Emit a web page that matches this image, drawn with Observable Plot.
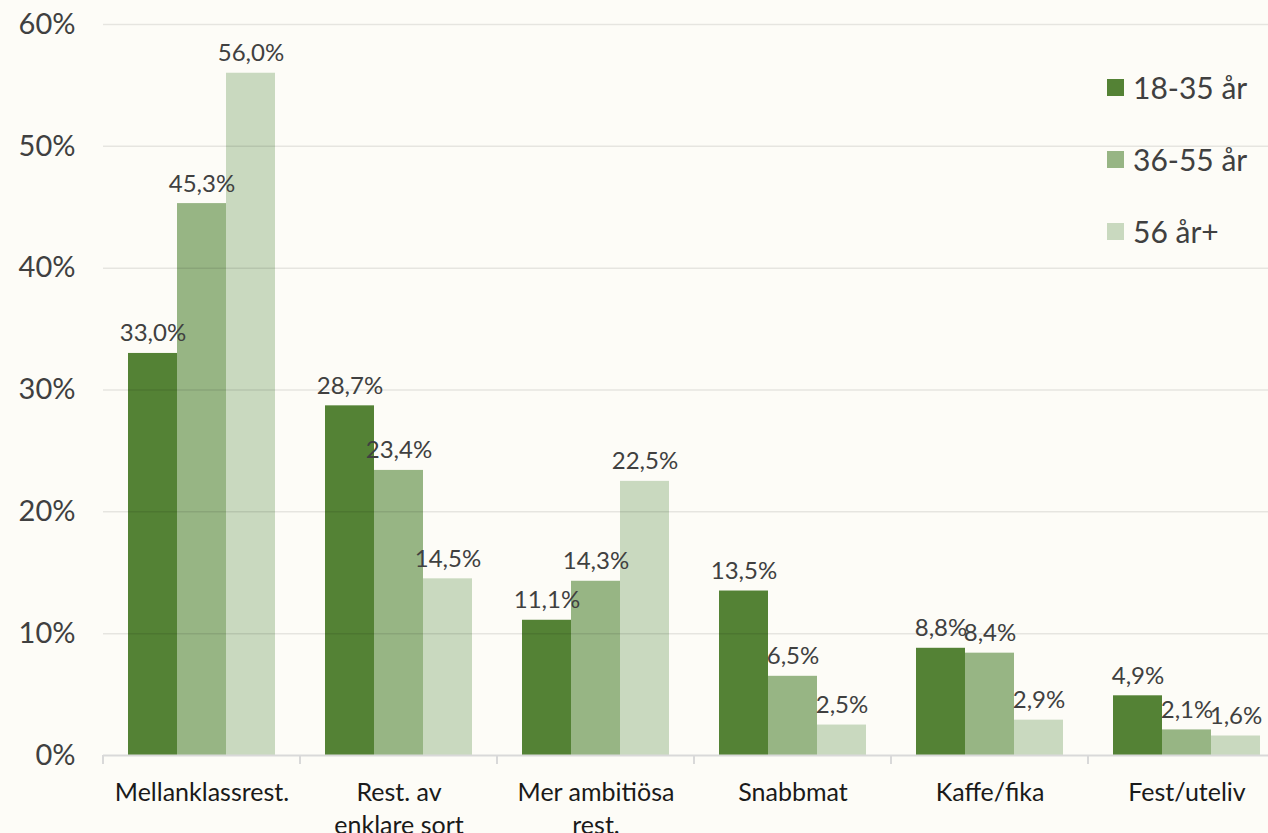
<!DOCTYPE html>
<html>
<head>
<meta charset="utf-8">
<script src="https://cdn.jsdelivr.net/npm/d3@7"></script>
<script src="https://cdn.jsdelivr.net/npm/@observablehq/plot@0.6"></script>
<style>
  html, body { margin: 0; padding: 0; background: #FDFCF7; }
  #wrap { position: relative; width: 1268px; height: 833px; overflow: hidden; font-family: Lato, "Open Sans", sans-serif; }
  #chart { position: absolute; left: 0; top: 0; }
  #legend { position: absolute; left: 1107px; top: 51px; }
  .row { display: flex; align-items: center; height: 72px; font-size: 30px; color: #404040; }
  .sw { width: 17px; height: 17px; margin-right: 9px; }
</style>
</head>
<body>
<div id="wrap"><div id="chart"></div><div id="legend"></div></div>
<script>
const categories = ["Mellanklassrest.", "Rest. av\nenklare sort", "Mer ambitiösa\nrest.", "Snabbmat", "Kaffe/fika", "Fest/uteliv"];
const groups = ["18-35 år", "36-55 år", "56 år+"];
const v18_35 = [33.0, 28.7, 11.1, 13.5, 8.8, 4.9];
const v36_55 = [45.3, 23.4, 14.3, 6.5, 8.4, 2.1];
const v56plus = [56.0, 14.5, 22.5, 2.5, 2.9, 1.6];
const colors = ["#548235", "#97B584", "#C9D9BF"];
const yTicks = [0, 10, 20, 30, 40, 50, 60];

const series = [v18_35, v36_55, v56plus];
const data = categories.flatMap((c, i) => groups.map((g, j) => ({category: c, group: g, value: series[j][i]})));

const font = "Lato, 'Open Sans', sans-serif";
const plot = Plot.plot({
  width: 1268,
  height: 833,
  marginLeft: 103,
  marginRight: -17,
  marginTop: 24,
  marginBottom: 78,
  style: {background: "transparent", fontFamily: font, overflow: "visible"},
  fx: {domain: categories, padding: 0, label: null, axis: null},
  x: {domain: groups, paddingInner: 0, paddingOuter: 0.51, axis: null},
  y: {domain: [0, 60], axis: null},
  color: {domain: groups, range: colors},
  marks: [
    Plot.barY(data, {fx: "category", x: "group", y: "value", fill: "group"}),
    Plot.gridY(yTicks.filter(d => d > 0), {stroke: "#000", strokeOpacity: 0.09, strokeWidth: 1.5}),
    Plot.ruleY([0], {stroke: "#D9D9D9", strokeWidth: 2}),
    Plot.axisY(yTicks, {tickSize: 0, tickPadding: 28, fontSize: 29, fill: "#404040", tickFormat: d => d + "%", label: null}),
    Plot.axisFx({anchor: "bottom", tickSize: 0, tickPadding: 22, fontSize: 25, lineHeight: 1.32, fill: "#1a1a1a", label: null}),
    Plot.text(data, {fx: "category", x: "group", y: "value", text: d => d.value.toFixed(1).replace(".", ",") + "%", lineAnchor: "bottom", dy: -12, fontSize: 24, fill: "#404040"})
  ]
});
document.getElementById("chart").appendChild(plot);

// tick marks at category boundaries on the x axis
const fx = plot.scale("fx");
const y = plot.scale("y");
const y0 = y.apply(0);
const svg = d3.select(plot);
const bounds = categories.map(c => fx.apply(c));
bounds.push(fx.apply(categories[categories.length - 1]) + fx.bandwidth);
svg.append("g").selectAll("line").data(bounds).join("line")
  .attr("x1", d => d).attr("x2", d => d)
  .attr("y1", y0).attr("y2", y0 + 9)
  .attr("stroke", "#D9D9D9").attr("stroke-width", 2);

// legend
const legend = d3.select("#legend");
groups.forEach((g, i) => {
  const row = legend.append("div").attr("class", "row");
  row.append("div").attr("class", "sw").style("background", colors[i]);
  row.append("span").text(g);
});
</script>
</body>
</html>
